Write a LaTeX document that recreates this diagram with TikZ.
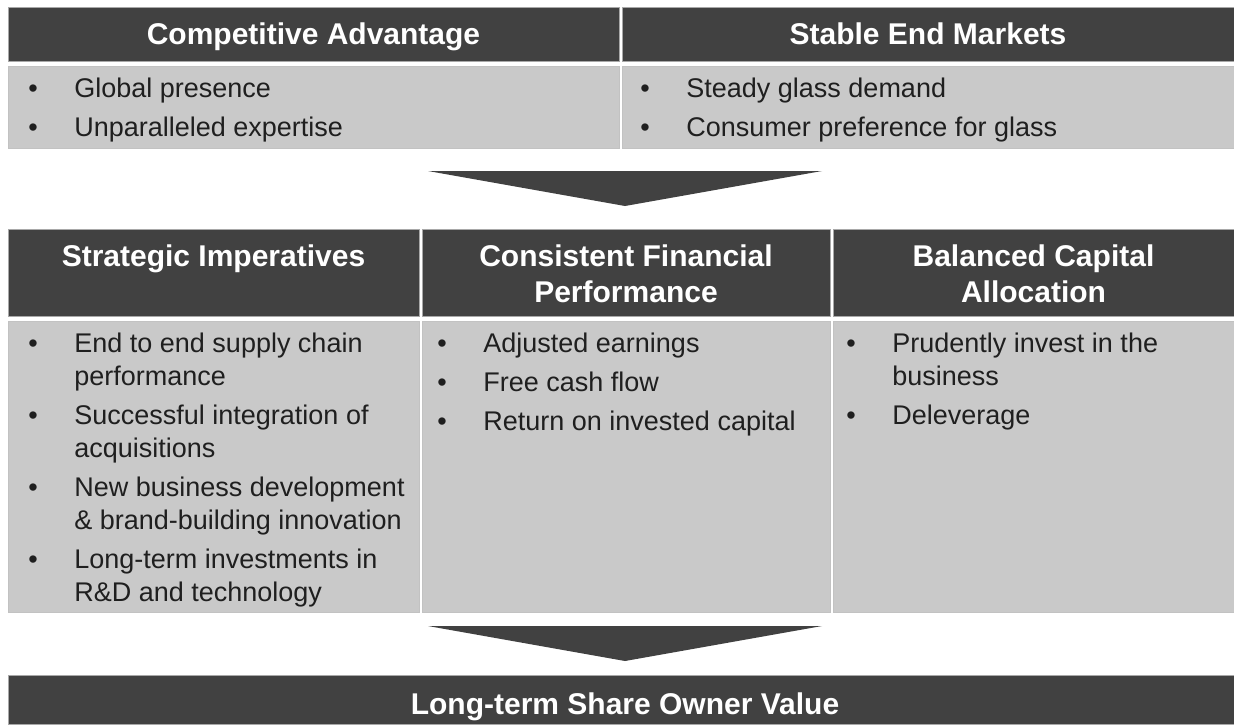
\documentclass[tikz,border=0pt]{standalone}
\usepackage{fontspec}
\setmainfont{Liberation Sans}
\usetikzlibrary{fit}
\definecolor{dark}{HTML}{414141}
\definecolor{light}{HTML}{C9C9C9}
\definecolor{edgegray}{HTML}{A8A8A8}
\tikzset{
  hdr/.style={fill=dark, draw=edgegray, line width=0.4pt, inner sep=0pt},
  bodybox/.style={fill=light, draw=edgegray!70, line width=0.3pt, inner sep=0pt},
  htext/.style={inner sep=0pt, anchor=base, text=white, font=\fontsize{15}{18}\selectfont\bfseries},
  bullets/.style={inner sep=0pt, anchor=base west, text=black!88, font=\fontsize{13.5}{16.5}\selectfont},
  chevron/.style={fill=dark, draw=none}
}
\newcommand{\blist}[1]{\begin{tabular}[t]{@{}p{23pt}@{}l@{}}#1\end{tabular}}
\newcommand{\hlines}[1]{\begin{tabular}[t]{@{}c@{}}#1\end{tabular}}
\begin{document}
\begin{tikzpicture}[x=0.5pt,y=-0.5pt]
\useasboundingbox (0,0) rectangle (1234,724);
\fill[white] (0,0) rectangle (1234,724);
% top row
\node[hdr, fit={(8,7) (619,61)}] (hCA) {};
\node[hdr, fit={(622,7) (1234,61)}] (hSEM) {};
\node[bodybox, fit={(8,66) (619,148)}] (bCA) {};
\node[bodybox, fit={(622,66) (1234,148)}] (bSEM) {};
\node[htext] (tCA) at (313.5,44) {Competitive Advantage};
\node[htext] (tSEM) at (928,44) {Stable End Markets};
\node[bullets] (lCA) at (28,97) {\blist{\textbullet & Global presence\\[3pt] \textbullet & Unparalleled expertise}};
\node[bullets] (lSEM) at (640,97) {\blist{\textbullet & Steady glass demand\\[3pt] \textbullet & Consumer preference for glass}};
% arrow 1
\fill[chevron] (428,171) -- (822,171) -- (625,206) -- cycle;
% middle row
\node[hdr, fit={(8,229) (419,316)}] (hSI) {};
\node[hdr, fit={(422,229) (830,316)}] (hCF) {};
\node[hdr, fit={(833,229) (1234,316)}] (hBC) {};
\node[bodybox, fit={(8,321) (419,612)}] (bSI) {};
\node[bodybox, fit={(422,321) (830,612)}] (bCF) {};
\node[bodybox, fit={(833,321) (1234,612)}] (bBC) {};
\node[htext] (tSI) at (213.5,266) {Strategic Imperatives};
\node[htext] (tCF) at (626,266) {\hlines{Consistent Financial\\Performance}};
\node[htext] (tBC) at (1033.5,266) {\hlines{Balanced Capital\\Allocation}};
\node[bullets] (lSI) at (28,352) {\blist{%
  \textbullet & End to end supply chain\\ & performance\\[3pt]
  \textbullet & Successful integration of\\ & acquisitions\\[3pt]
  \textbullet & New business development\\ & \& brand-building innovation\\[3pt]
  \textbullet & Long-term investments in\\ & R\&D and technology}};
\node[bullets] (lCF) at (437,352) {\blist{%
  \textbullet & Adjusted earnings\\[3pt]
  \textbullet & Free cash flow\\[3pt]
  \textbullet & Return on invested capital}};
\node[bullets] (lBC) at (846,352) {\blist{%
  \textbullet & Prudently invest in the\\ & business\\[3pt]
  \textbullet & Deleverage}};
% arrow 2
\fill[chevron] (428,626) -- (822,626) -- (625,661) -- cycle;
% bottom bar
\node[hdr, fit={(8,675) (1234,724)}] (bar) {};
\node[htext] (tBar) at (625,714) {Long-term Share Owner Value};
\end{tikzpicture}
\end{document}
